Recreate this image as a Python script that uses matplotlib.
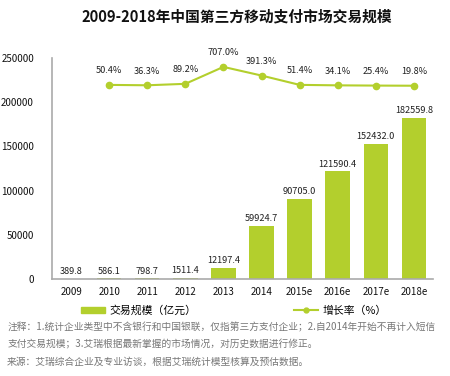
import matplotlib
matplotlib.use("Agg")
import matplotlib.pyplot as plt
from matplotlib.patches import Patch
from matplotlib.lines import Line2D

plt.rcParams['font.family'] = ['Noto Sans CJK SC', 'DejaVu Sans']

years = ['2009', '2010', '2011', '2012', '2013', '2014', '2015e', '2016e', '2017e', '2018e']
volume = [389.8, 586.1, 798.7, 1511.4, 12197.4, 59924.7, 90705.0, 121590.4, 152432.0, 182559.8]
growth = [None, 50.4, 36.3, 89.2, 707.0, 391.3, 51.4, 34.1, 25.4, 19.8]

green = '#b3cf2d'
fig = plt.figure(figsize=(4.5, 3.76), dpi=100)
ax = fig.add_axes([0.1156, 0.258, 0.8464, 0.588])

x = list(range(len(years)))
ax.bar(x, volume, width=0.64, color=green)
for i, v in enumerate(volume):
    ax.annotate(f'{v:.1f}', (i, v), xytext=(0, 2), textcoords='offset points',
                ha='center', va='bottom', fontsize=6.6, color='#222222')

ax.set_xlim(-0.5, 9.5)
ax.set_ylim(0, 250000)
ax.set_yticks(range(0, 250001, 50000))
ax.set_xticks(x)
ax.set_xticklabels(years)
ax.tick_params(length=0, labelsize=7, colors='#111111')
ax.tick_params(axis='x', pad=6)
ax.tick_params(axis='y', pad=13)
for s in ['top', 'right']:
    ax.spines[s].set_visible(False)
for s in ['left', 'bottom']:
    ax.spines[s].set_color('#aaaaaa')
    ax.spines[s].set_linewidth(1.2)

ax2 = ax.twinx()
gx = [i for i, g in enumerate(growth) if g is not None]
gy = [g for g in growth if g is not None]
ax2.plot(gx, gy, color=green, lw=1.5, marker='o', ms=4.5)
for i, g in zip(gx, gy):
    ax2.annotate(f'{g:.1f}%', (i, g), xytext=(0, 7), textcoords='offset points',
                 ha='center', va='bottom', fontsize=6.6, color='#222222')
ax2.set_ylim(-7030, 1035)
ax2.axis('off')

handles = [Patch(color=green, label='交易规模（亿元）'),
           Line2D([0], [0], color=green, lw=1.5, marker='o', ms=3.5, label='增长率（%）')]
fig.legend(handles=handles, loc='center', bbox_to_anchor=(0.52, 0.175), ncol=2,
           frameon=False, fontsize=7.8, columnspacing=9, handlelength=2.2,
           handleheight=0.5, handletextpad=0.4)

fig.text(0.527, 0.955, '2009-2018年中国第三方移动支付市场交易规模', ha='center', va='center',
         fontsize=10.6, fontweight='bold', color='#111111')

notes = ['注释：1.统计企业类型中不含银行和中国银联，仅指第三方支付企业；2.自2014年开始不再计入短信',
         '支付交易规模；3.艾瑞根据最新掌握的市场情况，对历史数据进行修正。',
         '来源：艾瑞综合企业及专业访谈，根据艾瑞统计模型核算及预估数据。']
for k, line in enumerate(notes):
    fig.text(0.016, 0.13 - k * 0.046, line, ha='left', va='center', fontsize=7.0, color='#777777')

fig.savefig('out.png', dpi=100)
